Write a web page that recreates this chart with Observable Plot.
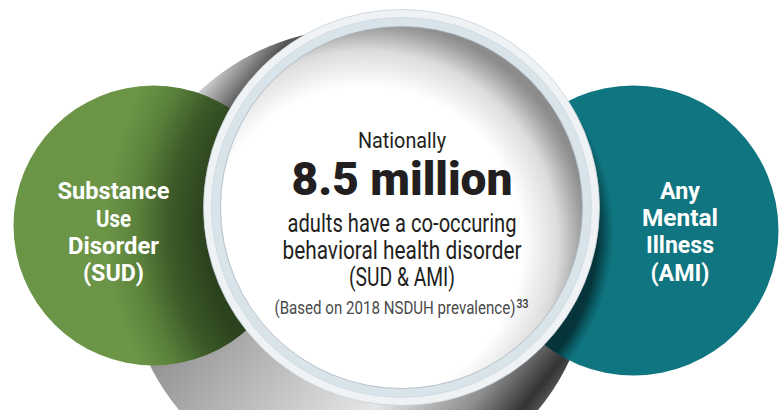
<!DOCTYPE html>
<html><head><meta charset="utf-8">
<script src="https://cdn.jsdelivr.net/npm/d3@7"></script>
<script src="https://cdn.jsdelivr.net/npm/@observablehq/plot@0.6"></script>
<style>html,body{margin:0;padding:0;background:#fff;overflow:hidden}</style>
</head><body><div id="chart"></div>
<script>
// ---- data ----
const circleKeys = ["SUD", "SUD & AMI", "AMI"];
const sudLabel = ["Substance", "Use", "Disorder", "(SUD)"];
const amiLabel = ["Any", "Mental", "Illness", "(AMI)"];
const introLine = "Nationally";
const headline = "8.5 million";
const bodyLines = ["adults have a co-occuring", "behavioral health disorder", "(SUD & AMI)"];
const noteLine = "(Based on 2018 NSDUH prevalence)";
const noteRef = "33";

// ---- styles ----
const FONT = "Roboto, 'Noto Sans', sans-serif";
const [kSUD, kBoth, kAMI] = circleKeys;
const widths = [];
function line(key, text, o) {
  widths.push(o.w);
  return Plot.text([text], {
    x: () => key, text: d => d, lineAnchor: "bottom",
    textAnchor: o.anchor || "middle", dx: o.dx, dy: o.dy,
    fontSize: o.size, fontWeight: o.weight || 400, fill: o.color, fontFamily: FONT
  });
}
const sudDy = [-6.7, 21, 48.3, 75.5], sudW = [112, 35, 91, 61];
const amiDy = [-6.7, 20, 47.7, 75], amiW = [40, 76, 68, 59];
const bodyDy = [26.7, 53.3, 80], bodyW = [229, 239, 106];

const marks = [
  // cast shadow of the central disc
  Plot.dot([kBoth], {x: d => d, r: 233, dx: -35, dy: 56, fill: "url(#shadowGrad)"}),
  // side circles
  Plot.dot([kSUD], {x: d => d, r: 140, dy: 20, fill: "url(#greenGrad)"}),
  Plot.dot([kAMI], {x: d => d, r: 145, dy: 25, fill: "url(#tealGrad)"}),
  // central disc with rings
  Plot.dot([kBoth], {x: d => d, r: 198, dx: 8, dy: 2, fill: "#eff2f5", stroke: "#c3ccd3", strokeWidth: 0.7}),
  Plot.dot([kBoth], {x: d => d, r: 190, dx: 8, dy: 2, fill: "#d9e3ea", stroke: "#c9d4dc", strokeWidth: 0.6}),
  Plot.dot([kBoth], {x: d => d, r: 181, dx: 8, dy: 2, fill: "url(#innerGrad)", stroke: "#a9b5be", strokeWidth: 0.8})
];
const textMarks = [];
sudLabel.forEach((t, i) => textMarks.push(line(kSUD, t, {dx: -40, dy: sudDy[i], size: 24.5, weight: 700, color: "#ffffff", w: sudW[i]})));
amiLabel.forEach((t, i) => textMarks.push(line(kAMI, t, {dx: 46.5, dy: amiDy[i], size: 24.5, weight: 700, color: "#ffffff", w: amiW[i]})));
textMarks.push(line(kBoth, introLine, {dx: 8.5, dy: -57.3, size: 22.5, color: "#231f20", w: 88}));
textMarks.push(line(kBoth, headline, {dx: 8.5, dy: -11, size: 46, weight: 900, color: "#231f20", w: 221}));
bodyLines.forEach((t, i) => textMarks.push(line(kBoth, t, {dx: 8.5, dy: bodyDy[i], size: 25.5, color: "#231f20", w: bodyW[i]})));
textMarks.push(line(kBoth, noteLine, {dx: 1.5, dy: 108.3, size: 18.7, color: "#4a4a4a", w: 241}));
textMarks.push(line(kBoth, noteRef, {dx: 123, dy: 102, size: 12.5, weight: 500, color: "#333333", anchor: "start", w: 12}));

const chart = Plot.plot({
  width: 783, height: 410, margin: 0,
  style: {background: "#ffffff", fontFamily: FONT, overflow: "hidden"},
  x: {type: "point", domain: circleKeys, range: [153, 633], padding: 0, axis: null},
  marks: [...marks, ...textMarks]
});

// gradients, centred on the central disc via the x scale
const cx = chart.scale("x").apply(kBoth) + 8, cy = 207;
d3.select(chart).insert("defs", ":first-child").html(`
  <linearGradient id="shadowGrad" x1="0.105" y1="0.19" x2="0.895" y2="0.81">
    <stop offset="0" stop-color="#dcdcdc"/>
    <stop offset="0.09" stop-color="#545454"/>
    <stop offset="0.25" stop-color="#8c8c8c"/>
    <stop offset="0.46" stop-color="#b4b4b4"/>
    <stop offset="0.72" stop-color="#e6e6e6"/>
    <stop offset="0.88" stop-color="#8e8e8e"/>
    <stop offset="0.97" stop-color="#333333"/>
    <stop offset="1" stop-color="#555555"/>
  </linearGradient>
  <radialGradient id="greenGrad" gradientUnits="userSpaceOnUse" cx="${cx}" cy="${cy}" r="400">
    <stop offset="0.49" stop-color="#2b421e"/>
    <stop offset="0.58" stop-color="#3d5a28"/>
    <stop offset="0.66" stop-color="#5a813b"/>
    <stop offset="0.74" stop-color="#6c9548"/>
    <stop offset="1" stop-color="#6a9446"/>
  </radialGradient>
  <radialGradient id="tealGrad" gradientUnits="userSpaceOnUse" cx="${cx}" cy="${cy}" r="400">
    <stop offset="0.49" stop-color="#05343a"/>
    <stop offset="0.515" stop-color="#0b5f68"/>
    <stop offset="0.53" stop-color="#0f7580"/>
    <stop offset="1" stop-color="#0f7580"/>
  </radialGradient>
  <radialGradient id="innerGrad" cx="0.4" cy="0.6" r="0.62">
    <stop offset="0" stop-color="#ffffff"/>
    <stop offset="0.7" stop-color="#ffffff"/>
    <stop offset="0.86" stop-color="#dcdcdc"/>
    <stop offset="0.96" stop-color="#a0a0a0"/>
    <stop offset="1" stop-color="#8c8c8c"/>
  </radialGradient>`);

// condensed letterforms: fit each line to its measured width
d3.select(chart).selectAll('g[aria-label="text"] text').each(function (d, i) {
  if (widths[i]) { this.setAttribute("textLength", widths[i]); this.setAttribute("lengthAdjust", "spacingAndGlyphs"); }
});
document.getElementById("chart").appendChild(chart);
</script></body></html>
